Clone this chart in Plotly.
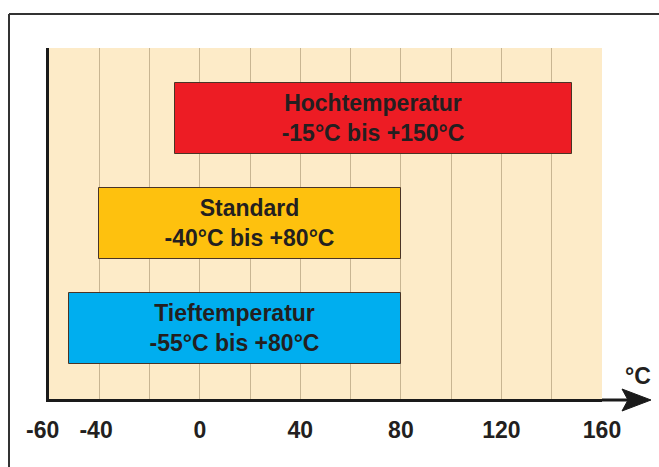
import plotly.graph_objects as go

# ---- data ----
categories = ["Tieftemperatur", "Standard", "Hochtemperatur"]
range_start = [-52, -40, -10]
range_end = [80, 80, 148]
labels = ["Tieftemperatur<br>-55°C bis +80°C",
          "Standard<br>-40°C bis +80°C",
          "Hochtemperatur<br>-15°C bis +150°C"]
bar_colors = ["#00AEEF", "#FEC10E", "#ED1C24"]
tick_values = [-60, -40, -20, 0, 20, 40, 60, 80, 100, 120, 140, 160]
tick_labels = ["-60\u00a0\u00a0", "-40\u00a0", "", "0", "", "40", "", "80", "", "120", "", "160"]
unit_label = "°C"

# ---- layout helpers (pixel -> paper) ----
W, H = 659, 467
L, R, T, B = 49, 57, 48, 68
pw, ph = W - L - R, H - T - B


def px_x(p):
    return (p - L) / pw


def px_y(p):
    return (H - B - p) / ph


TXT = "#231f20"
FONT = "Liberation Sans, Arial, sans-serif"
FS = 23

fig = go.Figure()
fig.add_trace(go.Bar(
    y=list(range(len(categories))),
    x=[e - s for s, e in zip(range_start, range_end)],
    base=range_start,
    orientation="h",
    width=0.675,
    marker=dict(color=bar_colors, line=dict(color="#4a3426", width=1)),
    text=labels,
    textposition="inside",
    insidetextanchor="middle",
    textangle=0,
    constraintext="none",
    textfont=dict(family=FONT, size=FS, color=TXT, weight=700),
    hoverinfo="skip",
))

shapes = [
    # outer frame (top & left edges visible)
    dict(type="line", xref="paper", yref="paper", x0=px_x(9), x1=px_x(W + 5), y0=px_y(14), y1=px_y(14),
         line=dict(color="#333333", width=2)),
    dict(type="line", xref="paper", yref="paper", x0=px_x(9), x1=px_x(9), y0=px_y(14), y1=px_y(H + 5),
         line=dict(color="#333333", width=2)),
    # x-axis extension and arrow head
    dict(type="line", xref="paper", yref="paper", x0=1, x1=px_x(628), y0=px_y(400), y1=px_y(400),
         line=dict(color="#1a1a1a", width=3)),
    dict(type="path", xref="paper", yref="paper",
         path=f"M {px_x(622)},{px_y(389)} L {px_x(651)},{px_y(400)} L {px_x(622)},{px_y(411)} L {px_x(628)},{px_y(400)} Z",
         fillcolor="#1a1a1a", line=dict(color="#1a1a1a", width=1)),
]

fig.update_layout(
    width=W, height=H,
    margin=dict(l=L, r=R, t=T, b=B),
    paper_bgcolor="white",
    plot_bgcolor="#FDEBC8",
    showlegend=False,
    bargap=0,
    shapes=shapes,
    annotations=[dict(text=unit_label, xref="paper", yref="paper", x=px_x(638), y=px_y(376),
                      xanchor="center", yanchor="middle",
                      showarrow=False, font=dict(family=FONT, size=FS, color=TXT, weight=700))],
    xaxis=dict(
        range=[-60, 160],
        tickvals=tick_values,
        ticktext=tick_labels,
        showgrid=True, gridcolor="#C8B592", gridwidth=1,
        zeroline=False,
        showline=True, linecolor="#1a1a1a", linewidth=3,
        ticks="",
        tickfont=dict(family=FONT, size=FS, color=TXT, weight=700),
        ticklabelstandoff=8,
        fixedrange=True,
    ),
    yaxis=dict(
        range=[-0.67, 2.673],
        showticklabels=False,
        showgrid=False, zeroline=False,
        showline=True, linecolor="#1a1a1a", linewidth=3,
        ticks="",
        fixedrange=True,
    ),
)

fig.write_html("out.html", config={"displayModeBar": False},
               post_script="document.body.style.margin='0px';document.body.style.padding='0px';")
